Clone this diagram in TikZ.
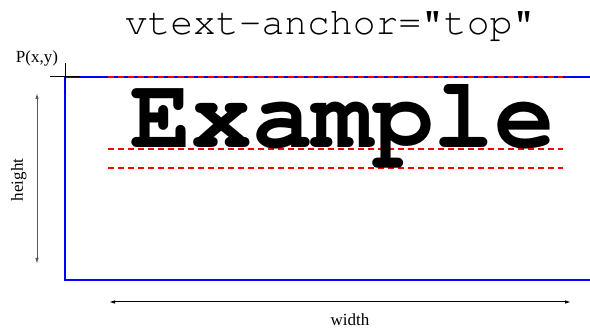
\documentclass[tikz,border=0pt]{standalone}
\usepackage[T1]{fontenc}
\usepackage{fontspec}
\setmainfont{Liberation Serif}
\usetikzlibrary{arrows.meta}
\tikzset{
  blueline/.style={blue, line width=2pt},
  reddash/.style={red, line width=1.8pt, dash pattern=on 6pt off 4pt},
  dimarrow/.style={line width=1pt, {Latex[length=6pt,width=3.5pt]}-{Latex[length=6pt,width=3.5pt]}},
  lbl/.style={font=\fontsize{17}{17}\selectfont, inner sep=0pt}
}
\begin{document}
\begin{tikzpicture}[x=1pt,y=-1pt]
\useasboundingbox (0,0) rectangle (590,331);
\begin{scope}
\clip (0,0) rectangle (590,331);
% blue frame
\draw[blueline] (594,77) -- (65,77) -- (65,280) -- (594,280);
% red dashed lines
\draw[reddash] (108,77) -- (563,77);
\draw[reddash] (108,149) -- (563,149);
\draw[reddash] (108,168) -- (563,168);
\end{scope}
% crosshair
\coordinate (chL) at (50,77); \coordinate (chR) at (80,77);
\coordinate (chT) at (65,63); \coordinate (chB) at (65,93);
\draw[line width=1pt] (chL) -- (chR);
\draw[line width=1pt] (chT) -- (chB);
% labels
\node[lbl, anchor=base] (P) at (37,63) {P(x,y)};
\node[inner sep=0pt, anchor=base, font=\usefont{T1}{pcr}{m}{n}\fontsize{38}{38}\selectfont] (title) at (330,35) {vtext-anchor="top"};
\node[inner sep=0pt, anchor=base, font=\usefont{T1}{pcr}{b}{n}\fontsize{101}{101}\selectfont] (ex) at (343,148) {Example};
% height arrow
\coordinate (hT) at (37,93); \coordinate (hB) at (37,264);
\draw[dimarrow, black!65] (hT) -- (hB);
\node[lbl, rotate=90, anchor=base] (hl) at (23,180) {height};
% width arrow
\coordinate (wL) at (109,302); \coordinate (wR) at (571,302);
\draw[dimarrow] (wL) -- (wR);
\node[lbl, anchor=base] (wl) at (350,326) {width};
\end{tikzpicture}
\end{document}
